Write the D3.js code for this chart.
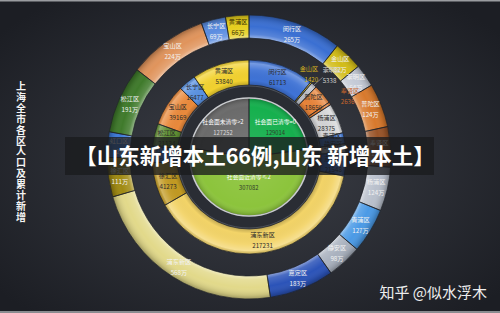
<!DOCTYPE html>
<html>
<head>
<meta charset="utf-8">
<script src="https://cdn.jsdelivr.net/npm/d3@7"></script>
<style>
  body { margin: 0; background: #25282f; }
  svg { display: block; }
  text { font-family: "Noto Sans CJK SC", "Noto Sans", sans-serif; }
</style>
</head>
<body>
<div id="chart"></div>
<script>
// districts, clockwise from 12 o'clock
const districts = ["闵行区", "金山区", "崇明区", "普陀区", "奉贤区", "杨浦区", "青浦区", "静安区",
  "嘉定区", "浦东新区", "徐汇区", "虹口区", "松江区", "宝山区", "长宁区", "黄浦区"];
// population, 万
const population = [265, 82, 64, 124, 114, 124, 127, 98, 183, 568, 111, 72, 191, 224, 69, 66];
// cumulative new cases
const newCases = [61713, 1420, 5338, 18650, 2636, 28375, 10380, 8564, 21548, 217231, 41273, 15600, 21134, 39169, 16477, 53840];

const outerColors = ["#3a6fd2", "#d2bc18", "#c4cad6", "#d8792c", "#9a5428", "#b9c0cc", "#4b9ae6", "#a9b1be",
  "#2b53b8", "#e2d98a", "#a08a12", "#3d7ad8", "#3f7a2b", "#e0945c", "#5a8ce0", "#e6cf1e"];
const innerColors = ["#3f73d6", "#e0c21c", "#b8bcc4", "#e8843a", "#e07a30", "#d4d4d6", "#3f78d8", "#b0b8c4",
  "#3a68d0", "#f3d468", "#c29a22", "#3d7ad8", "#5f8e33", "#ea8a3c", "#5a92e2", "#f2d230"];

const statusNames = ["社会面已清零=0", "社会面近清零≤2", "社会面未清零>2"];
const statusValues = [129014, 307082, 127252];
const statusColors = ["#16b04e", "#8cc43c", "#6b6b6b"];

const width = 500, height = 313;
const cx = 249, cy = 157;
const outerR = [119, 142], innerR = [72, 97], pieR = 59, ringR = 71;

const svg = d3.select("#chart").append("svg")
  .attr("width", width)
  .attr("height", height);

const defs = svg.append("defs");

const bg = defs.append("radialGradient").attr("id", "bg")
  .attr("cx", "50%").attr("cy", "52%").attr("r", "65%");
bg.append("stop").attr("offset", "0%").attr("stop-color", "#3c3f47");
bg.append("stop").attr("offset", "100%").attr("stop-color", "#1c1e24");

// gradients live in the centred group's coordinates
function ringShade(id, r, stops) {
  const gr = defs.append("radialGradient").attr("id", id)
    .attr("gradientUnits", "userSpaceOnUse")
    .attr("cx", 0).attr("cy", 0).attr("r", r);
  stops.forEach(s => gr.append("stop").attr("offset", s[0])
    .attr("stop-color", s[1]).attr("stop-opacity", s[2]));
}
ringShade("outerShade", outerR[1], [
  [outerR[0] / outerR[1], "#fff", 0.45], [0.865, "#fff", 0.15], [0.92, "#fff", 0],
  [0.975, "#000", 0.12], [1, "#000", 0.3]]);
ringShade("innerShade", innerR[1], [
  [innerR[0] / innerR[1], "#000", 0.2], [0.79, "#000", 0], [0.9, "#fff", 0.06],
  [0.965, "#fff", 0.28], [1, "#000", 0.12]]);
ringShade("pieShade", pieR, [
  [0, "#fff", 0.1], [0.85, "#fff", 0], [0.96, "#000", 0.12], [1, "#000", 0.25]]);

svg.append("rect").attr("width", width).attr("height", height).attr("fill", "url(#bg)");
svg.append("rect").attr("width", width).attr("height", 1.5).attr("fill", "#9a9ca0");
svg.append("rect").attr("y", height - 2).attr("width", width).attr("height", 2).attr("fill", "#8a8c90");

const g = svg.append("g").attr("transform", "translate(" + cx + "," + cy + ")");

const pie = d3.pie().sort(null).value(d => d);

function drawRing(values, arc, colors, shade) {
  const arcs = pie(values);
  const ring = g.append("g");
  ring.selectAll("path.seg")
    .data(arcs)
    .enter().append("path")
    .attr("class", "seg")
    .attr("d", arc)
    .attr("fill", (d, i) => colors[i]);
  ring.selectAll("path.shade")
    .data(arcs)
    .enter().append("path")
    .attr("class", "shade")
    .attr("d", arc)
    .attr("fill", "url(#" + shade + ")")
    .attr("stroke", "#1f2228")
    .attr("stroke-width", 0.7);
  return arcs;
}

// outer ring: population
const outerArc = d3.arc().innerRadius(outerR[0]).outerRadius(outerR[1]);
drawRing(population, outerArc, outerColors, "outerShade");

// middle ring: cases
const innerArc = d3.arc().innerRadius(innerR[0]).outerRadius(innerR[1]);
drawRing(newCases, innerArc, innerColors, "innerShade");

// dark ring around the pie
g.append("path")
  .attr("d", d3.arc().innerRadius(pieR).outerRadius(ringR)({ startAngle: 0, endAngle: 2 * Math.PI }))
  .attr("fill", "#2a2d34")
  .attr("stroke", "#4c515a")
  .attr("stroke-width", 1);

// centre pie: status
const pieArc = d3.arc().innerRadius(0).outerRadius(pieR);
drawRing(statusValues, pieArc, statusColors, "pieShade");
g.append("circle").attr("r", pieR).attr("fill", "none")
  .attr("stroke", "#c9cbce").attr("stroke-width", 1.6);

// labels
const fs = 6.2;
const lg = svg.append("g").attr("transform", "translate(" + cx + "," + cy + ")");
function twoLine(x, y, a, b, color, anchor, color2, size) {
  const t = lg.append("g");
  t.append("text").attr("x", x).attr("y", y - 3).attr("text-anchor", anchor || "middle")
    .attr("font-size", size || fs).attr("fill", color).text(a);
  t.append("text").attr("x", x).attr("y", y + 8).attr("text-anchor", anchor || "middle")
    .attr("font-size", size || fs).attr("fill", color2 || color).text(b);
}

const outerMid = d3.arc().innerRadius(130.5).outerRadius(130.5);
pie(population).forEach((d, i) => {
  const c = outerMid.centroid(d);
  const col = districts[i] === "黄浦区" ? "#3a3000" : "#f2f2f2";
  twoLine(c[0], c[1], districts[i], population[i] + "万", col);
});

const outside = {
  "金山区": { anchor: "end", r: 108, color: "#d7b420" },
  "崇明区": { anchor: "start", r: 110, color: "#cfcfcf" },
  "奉贤区": { anchor: "start", r: 110, color: "#c8662c" }
};
const innerMid = d3.arc().innerRadius(84.5).outerRadius(84.5);
pie(newCases).forEach((d, i) => {
  const o = outside[districts[i]];
  if (o) {
    const c = d3.arc().innerRadius(o.r).outerRadius(o.r).centroid(d);
    if (districts[i] === "崇明区") {
      const p0 = d3.arc().innerRadius(innerR[1]).outerRadius(innerR[1]).centroid(d);
      lg.append("line").attr("x1", p0[0]).attr("y1", p0[1])
        .attr("x2", c[0]).attr("y2", c[1] + 2)
        .attr("stroke", "#9a9a9a").attr("stroke-width", 0.7);
    }
    twoLine(c[0], c[1], districts[i], newCases[i], o.color, o.anchor);
  } else {
    const c = innerMid.centroid(d);
    twoLine(c[0], c[1], districts[i], newCases[i], "#2a2a2a");
  }
});

pie(statusValues).forEach((d, i) => {
  // big slice: label nearer the centre; small slices: pushed outward so they don't meet
  const r = (d.endAngle - d.startAngle) > Math.PI ? 25 : 40;
  const c = d3.arc().innerRadius(r).outerRadius(r).centroid(d);
  twoLine(c[0], c[1], statusNames[i], statusValues[i], "#ffffff", "middle",
    i === 2 ? "#dcdcdc" : "#2f3a2a", 5.8);
});

// vertical title
const title = "上海全市各区人口及累计新增";
svg.append("g").selectAll("text")
  .data(title.split(""))
  .enter().append("text")
  .attr("x", 21)
  .attr("y", (d, i) => 90 + i * 10.9)
  .attr("text-anchor", "middle")
  .attr("font-size", 10)
  .attr("font-weight", "bold")
  .attr("fill", "#f4f4f4")
  .text(d => d);

// banner
svg.append("rect")
  .attr("x", 65).attr("y", 137).attr("width", 369).attr("height", 38)
  .attr("fill", "#1a1b1e").attr("fill-opacity", 0.78);
svg.append("text")
  .attr("x", 255).attr("y", 164)
  .attr("text-anchor", "middle")
  .attr("font-size", 21.5)
  .attr("font-weight", "bold")
  .attr("fill", "#ffffff")
  .text("【山东新增本土66例,山东 新增本土】");

// watermark
svg.append("text")
  .attr("x", 487).attr("y", 298)
  .attr("text-anchor", "end")
  .attr("font-size", 15)
  .attr("fill", "#eeeeee")
  .text("知乎 @似水浮木");
</script>
</body>
</html>
